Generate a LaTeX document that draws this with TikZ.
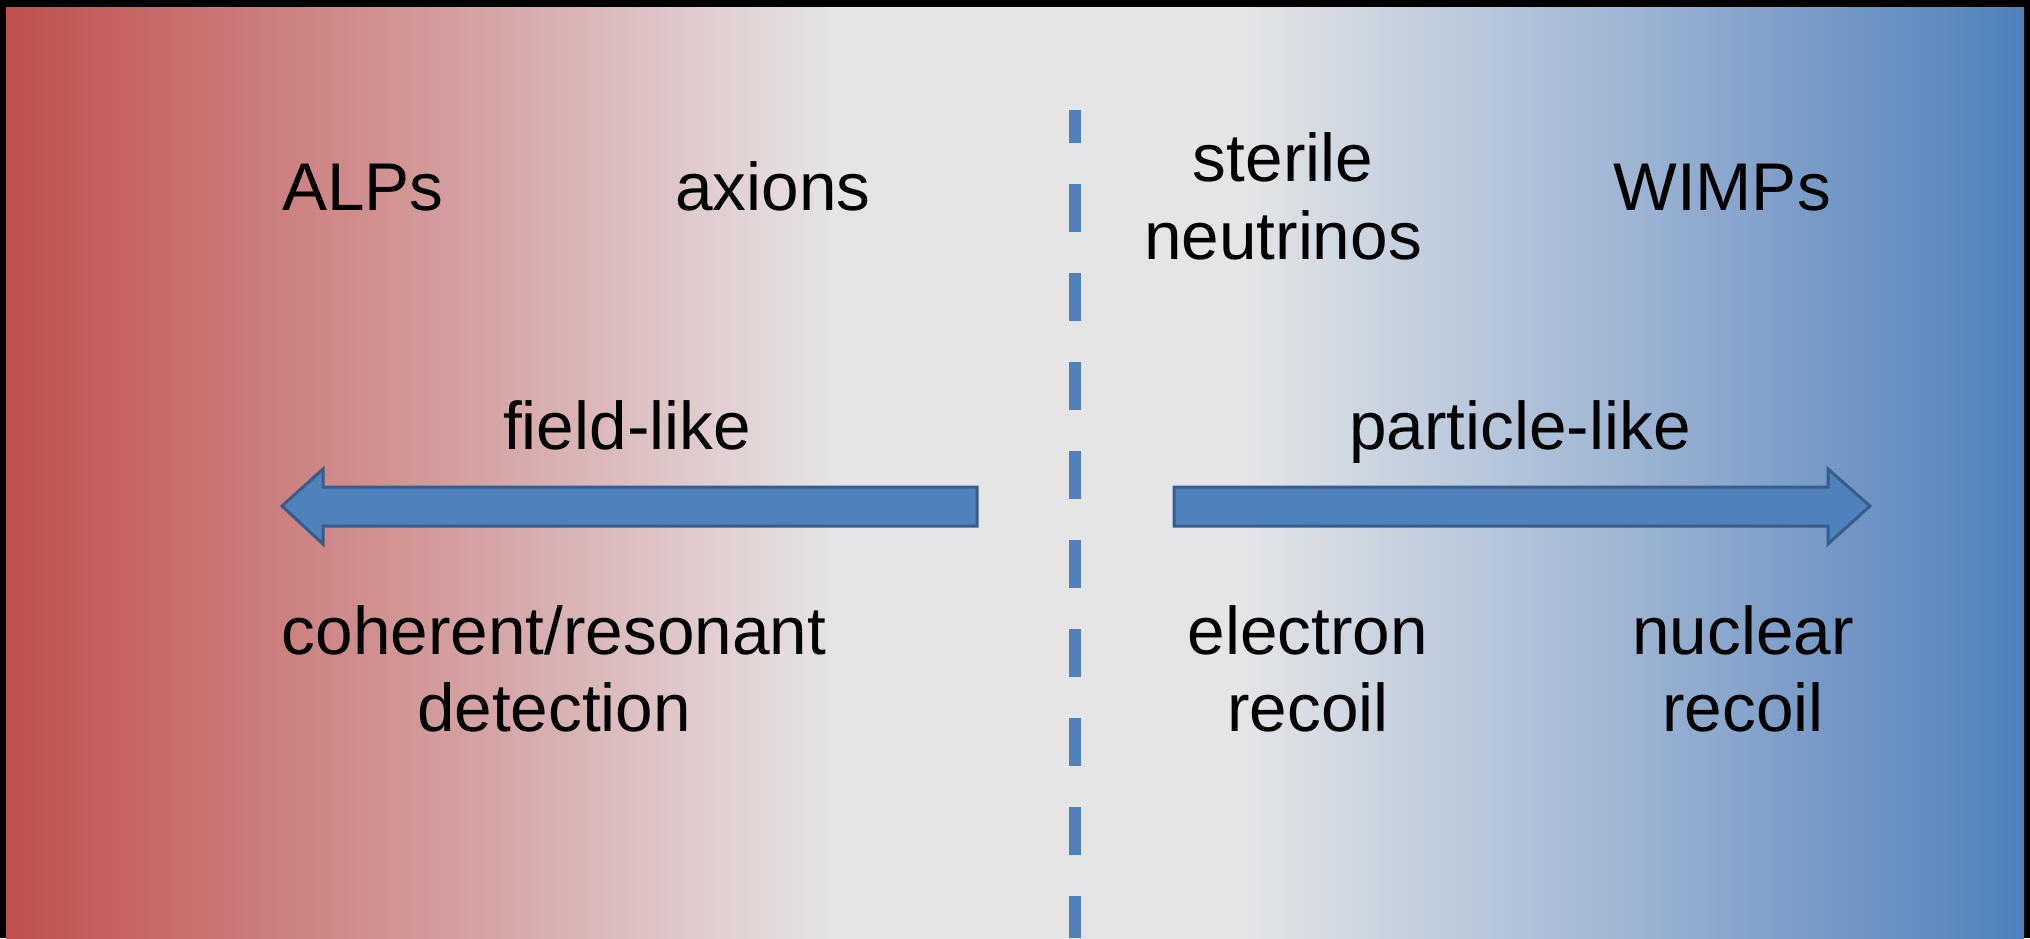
\documentclass[tikz,border=0pt]{standalone}
\usepackage{fontspec}
\setmainfont{Liberation Sans}
\definecolor{gA}{RGB}{192,80,77}
\definecolor{gB}{RGB}{204,125,125}
\definecolor{gC}{RGB}{215,170,171}
\definecolor{gD}{RGB}{225,206,208}
\definecolor{gE}{RGB}{230,229,229}
\definecolor{gF}{RGB}{228,229,231}
\definecolor{gG}{RGB}{195,207,222}
\definecolor{gH}{RGB}{160,182,212}
\definecolor{gJ}{RGB}{122,156,200}
\definecolor{gI}{RGB}{79,129,189}
\definecolor{arrfill}{RGB}{79,129,189}
\definecolor{arrline}{RGB}{56,93,138}
\definecolor{dashblue}{RGB}{79,129,189}
\pgfdeclarehorizontalshading{bgshade}{100bp}{color(0bp)=(gA); color(25bp)=(gA); color(31.5bp)=(gB); color(37.75bp)=(gC); color(42.5bp)=(gD); color(45.7bp)=(gE); color(55.6bp)=(gF); color(60bp)=(gG); color(65bp)=(gH); color(69.5bp)=(gJ); color(75bp)=(gI); color(100bp)=(gI)}
\tikzset{
  lbl/.style={anchor=base, inner sep=0pt, font=\fontsize{67.5}{78}\selectfont, text=black},
  bigarrow/.style={fill=arrfill, draw=arrline, line width=3pt, line join=miter},
  dashline/.style={draw=dashblue, line width=12pt, dash pattern=on 48pt off 41pt, dash phase=15pt}
}
\begin{document}
\begin{tikzpicture}[x=1pt,y=-1pt]
\useasboundingbox (0,0) rectangle (2030,938);
\fill[black] (0,0) rectangle (2030,938);
\shade[shading=bgshade, shading angle=0] (6,7) rectangle (2024,938);
% dashed divider
\coordinate (dtop) at (1075,110);
\coordinate (dbot) at (1075,938);
\draw[dashline] (dtop) -- (dbot);
% labels top row
\node[lbl] (alps) at (363,210) {ALPs};
\node[lbl] (axions) at (773,210) {axions};
\node[lbl] (sterile) at (1283,181) {sterile};
\node[lbl] (neutrinos) at (1283,259) {neutrinos};
\node[lbl] (wimps) at (1722,210) {WIMPs};
% middle labels
\node[lbl] (field) at (627,449) {field-like};
\node[lbl] (particle) at (1520,449) {particle-like};
% arrows
\draw[bigarrow] (282,506) -- (323,469) -- (323,487) -- (977,487) -- (977,526) -- (323,526) -- (323,544) -- cycle;
\draw[bigarrow] (1870,506) -- (1828,469) -- (1828,487) -- (1174,487) -- (1174,526) -- (1828,526) -- (1828,544) -- cycle;
% bottom labels
\node[lbl] (coh) at (554,654) {coherent/resonant};
\node[lbl] (det) at (554,731) {detection};
\node[lbl] (elec) at (1308,654) {electron};
\node[lbl] (erec) at (1308,731) {recoil};
\node[lbl] (nuc) at (1743,654) {nuclear};
\node[lbl] (nrec) at (1743,731) {recoil};
\end{tikzpicture}
\end{document}
